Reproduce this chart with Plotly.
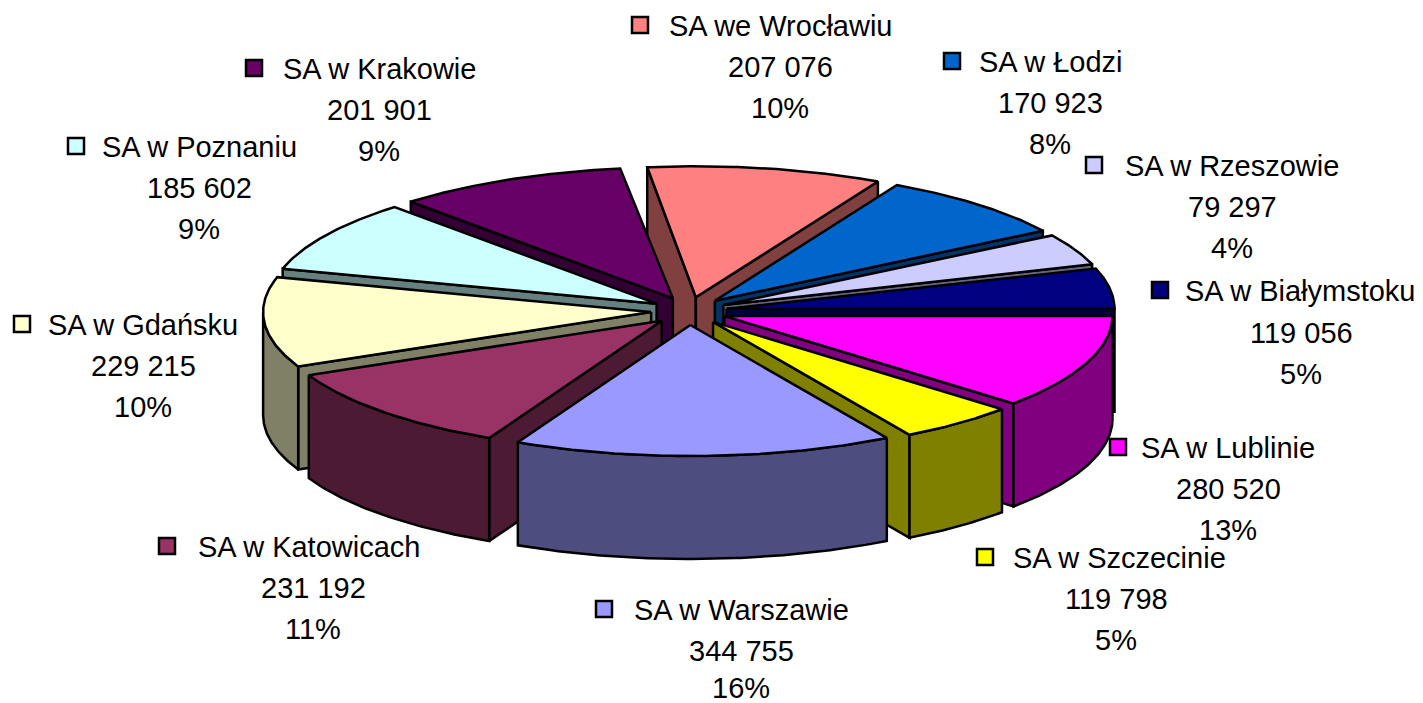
import numpy as np
import plotly.graph_objects as go

names = ["SA we Wrocławiu", "SA w Łodzi", "SA w Rzeszowie", "SA w Białymstoku", "SA w Lublinie",
         "SA w Szczecinie", "SA w Warszawie", "SA w Katowicach", "SA w Gdańsku", "SA w Poznaniu", "SA w Krakowie"]
values = [207076, 170923, 79297, 119056, 280520, 119798, 344755, 231192, 229215, 185602, 201901]
percents = ["10%", "8%", "4%", "5%", "13%", "5%", "16%", "11%", "10%", "9%", "9%"]
top_colors = ["#FF8080", "#0066CC", "#CCCCFF", "#000080", "#FF00FF", "#FFFF00",
              "#9999FF", "#993366", "#FFFFCC", "#CCFFFF", "#660066"]
wall_colors = ["#804040", "#003366", "#666680", "#000040", "#800080", "#808000",
               "#4D4D80", "#4D1A33", "#808066", "#668080", "#330033"]
# legend-key x, name span, value centre, three line y positions
label_pos = [(640, 659, 902, 780, 26, 67, 108), (952, 972, 1128, 1050, 62, 103, 144),
             (1094, 1114, 1350, 1232, 166, 207, 248), (1160, 1180, 1420, 1301, 291, 333, 374),
             (1118, 1137, 1319, 1228, 448, 489, 530), (985, 1004, 1234, 1116, 558, 599, 640),
             (604, 622, 860, 741, 610, 651, 688), (167, 187, 430, 313, 547, 588, 629),
             (22, 41, 244, 143, 325, 366, 407), (76, 97, 301, 199, 147, 188, 229),
             (254, 274, 485, 379, 69, 110, 151)]

CX, CY, RX, RY, EX, EY, DEPTH = 689, 311, 388, 131, 38, 14, 103
FONT = dict(family="Liberation Sans, Arial, sans-serif", size=29, color="black")
# apparent rotation of the 3-D view around the pie, degrees
VIEW_AT = [0, 34, 63, 76, 96, 142, 162, 219, 258, 296, 326, 360]
VIEW_OFF = [-7.2, -6.4, -5, -4, -5.7, -10.3, -12.5, -12.9, -12.2, -10.2, -9, -7.8]


def view(t):
    return t + np.interp(t, VIEW_AT, VIEW_OFF)


def pt(t, r=1.0):
    a = np.radians(t)
    return RX * r * np.sin(a), -RY * r * np.cos(a)


fig = go.Figure()


def poly(xs, ys, color):
    fig.add_trace(go.Scatter(x=list(xs) + [xs[0]], y=list(ys) + [ys[0]], mode="lines", fill="toself",
                             fillcolor=color, line=dict(color="black", width=2.5),
                             hoverinfo="skip", showlegend=False))


total = sum(values)
edges = np.concatenate([[0], np.cumsum(values)]) / total * 360
slices = []
for i in range(len(values)):
    a0, a1 = view(edges[i]), view(edges[i + 1])
    slices.append((np.cos(np.radians((a0 + a1) / 2)), i, a0, a1))

for _, i, a0, a1 in sorted(slices, key=lambda s: -s[0]):
    mid = np.radians((a0 + a1) / 2)
    ax, ay = CX + EX * np.sin(mid), CY - EY * np.cos(mid)
    ts = np.linspace(a0, a1, 80)
    ox, oy = pt(ts)
    ox, oy = ax + ox, ay + oy
    # radial walls that face the viewer
    if np.sin(np.radians(a0)) < 0:
        poly([ax, ox[0], ox[0], ax], [ay, oy[0], oy[0] + DEPTH, ay + DEPTH], wall_colors[i])
    if np.sin(np.radians(a1)) > 0:
        poly([ax, ox[-1], ox[-1], ax], [ay, oy[-1], oy[-1] + DEPTH, ay + DEPTH], wall_colors[i])
    # outer curved wall, front half only
    vis = np.cos(np.radians(ts)) <= 0
    if vis.sum() > 1:
        wx, wy = ox[vis], oy[vis]
        poly(list(wx) + list(wx[::-1]), list(wy) + list(wy[::-1] + DEPTH), wall_colors[i])
    poly([ax] + list(ox), [ay] + list(oy), top_colors[i])

for i, (kx, s0, s1, vx, y0, y1, y2) in enumerate(label_pos):
    fig.add_trace(go.Scatter(x=[kx], y=[y0 - 1], mode="markers", hoverinfo="skip", showlegend=False,
                             marker=dict(symbol="square", size=16, color=top_colors[i],
                                         line=dict(color="black", width=2.5))))
    value_text = f"{values[i]:,}".replace(",", " ")
    for tx, ty, t in [((s0 + s1) / 2, y0, names[i]), (vx, y1, value_text), (vx, y2, percents[i])]:
        fig.add_annotation(x=tx, y=ty, text=t, showarrow=False, xanchor="center", yanchor="middle", font=FONT)

fig.update_layout(width=1423, height=703, margin=dict(l=0, r=0, t=0, b=0), paper_bgcolor="white",
                  plot_bgcolor="white",
                  xaxis=dict(range=[0, 1423], visible=False, fixedrange=True),
                  yaxis=dict(range=[703, 0], visible=False, fixedrange=True))
fig.write_html("out.html", config=dict(displayModeBar=False), post_script="document.body.style.margin='0';")
